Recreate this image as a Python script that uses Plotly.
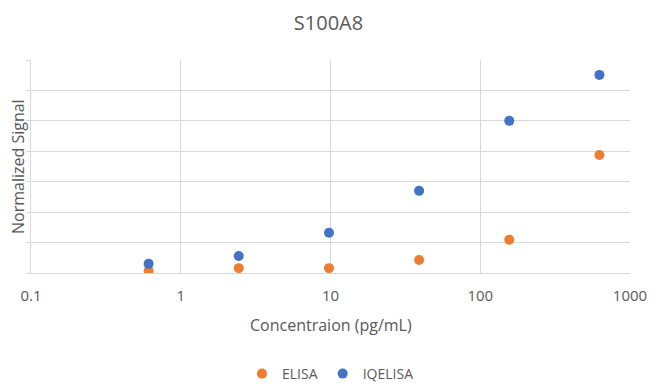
import plotly.graph_objects as go

concentration = [0.61, 2.44, 9.77, 39.06, 156.25, 625]
elisa = [0.07, 0.16, 0.16, 0.43, 1.09, 3.88]
iqelisa = [0.30, 0.56, 1.32, 2.70, 5.00, 6.51]
x_ticks = [0.1, 1, 10, 100, 1000]
x_tick_labels = ["0.1", "1", "10", "100", "1000"]

font = "Open Sans"
fig = go.Figure()
fig.add_trace(go.Scatter(x=concentration, y=elisa, mode="markers", name="ELISA",
                         marker=dict(color="#ED7D31", size=10)))
fig.add_trace(go.Scatter(x=concentration, y=iqelisa, mode="markers", name="IQELISA",
                         marker=dict(color="#4472C4", size=10)))

# page has an 8px body margin; figure coords = page coords - 8
OFF = 8
W, H = 641, 376
L, T = 31 - OFF, 60 - OFF
R = W - (630 - OFF)
B = H - (273 - OFF)
PW, PH = W - L - R, H - T - B


def py(p):  # page pixel y -> paper
    return (H - B - (p - OFF)) / PH


def px(p):  # page pixel x -> paper
    return ((p - OFF) - L) / PW


fig.update_layout(
    width=W, height=H,
    margin=dict(l=L, r=R, t=T, b=B, autoexpand=False),
    paper_bgcolor="white", plot_bgcolor="white",
    font=dict(family=font, color="#595959", size=13),
    title=dict(text="S100A8", x=0.5, xanchor="center", y=1 - (22.5 - OFF) / H, yanchor="middle",
               pad=dict(t=0, b=0),
               font=dict(size=20, color="#595959", family=font)),
    showlegend=True,
    legend=dict(orientation="h", x=0.5, xanchor="center", y=py(374), yanchor="middle",
                font=dict(size=14, color="#595959"), itemwidth=30, tracegroupgap=0),
    xaxis=dict(type="log", range=[-1, 3], tickvals=x_ticks, ticktext=x_tick_labels,
               showgrid=True, gridcolor="#d9d9d9", gridwidth=1, automargin=False,
               showline=True, linecolor="#d9d9d9", linewidth=1, zeroline=False,
               ticks="", ticklabelstandoff=9, tickfont=dict(size=15, color="#595959")),
    yaxis=dict(range=[0, 7], dtick=1, showticklabels=False, automargin=False,
               showgrid=True, gridcolor="#d9d9d9", gridwidth=1,
               showline=True, linecolor="#d9d9d9", linewidth=1, zeroline=False,
               ticks="outside", ticklen=4, tickcolor="#d9d9d9"),
    annotations=[
        dict(text="Concentraion (pg/mL)", x=px(331), xref="paper", y=py(325), yref="paper",
             xanchor="center", yanchor="middle", showarrow=False,
             font=dict(size=16, color="#595959")),
        dict(text="Normalized Signal", x=px(18), xref="paper", y=py(167), yref="paper",
             xanchor="center", yanchor="middle", showarrow=False, textangle=-90,
             font=dict(size=16, color="#595959")),
    ],
)
fig.write_html("out.html")
